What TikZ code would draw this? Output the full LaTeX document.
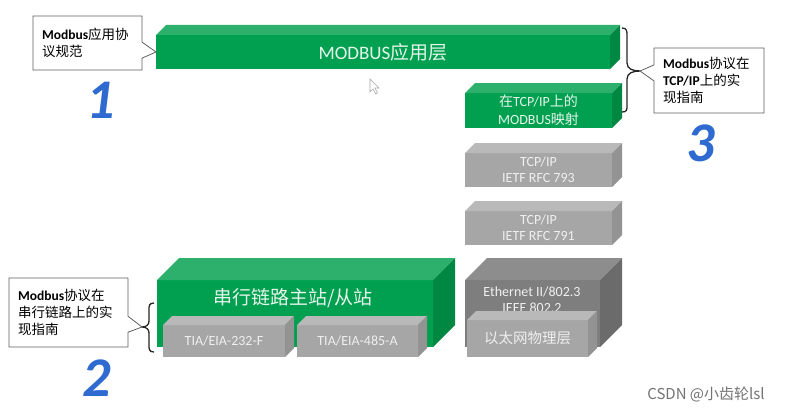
\documentclass[tikz,border=0pt]{standalone}
\usepackage{fontspec}
\setmainfont{Carlito}
\newfontfamily\cjk{Noto Sans CJK SC}
\usetikzlibrary{shapes.callouts}
\definecolor{gfront}{HTML}{00A050}
\definecolor{gtop}{HTML}{2DB06B}
\definecolor{gside}{HTML}{008842}
\definecolor{gtext}{HTML}{E6F5EB}
\definecolor{lfront}{HTML}{A6A6A6}
\definecolor{ltop}{HTML}{B9B9B9}
\definecolor{lside}{HTML}{939393}
\definecolor{dfront}{HTML}{7E7E7E}
\definecolor{dtop}{HTML}{8D8D8D}
\definecolor{dside}{HTML}{6B6B6B}
\definecolor{ltext}{HTML}{EFEFEF}
\definecolor{numblue}{HTML}{2E6AD0}
\definecolor{cborder}{HTML}{606060}
\newcommand\zh[1]{{\cjk #1}}
\newcommand\slab[4]{%
  \fill[#3] (#1.north west) -- ([shift={(#2,-#2)}]#1.north west) -- ([shift={(#2,-#2)}]#1.north east) -- (#1.north east) -- cycle;
  \fill[#4] (#1.north east) -- ([shift={(#2,-#2)}]#1.north east) -- ([shift={(#2,-#2)}]#1.south east) -- (#1.south east) -- cycle;}
\begin{document}
\begin{tikzpicture}[x=1pt,y=-1pt,
  face/.style={inner sep=0pt, outer sep=0pt, anchor=north west, align=center},
  gface/.style={face, fill=gfront, text=gtext},
  lface/.style={face, fill=lfront, text=ltext},
  dface/.style={face, fill=dfront, text=ltext},
  note/.style={rectangle callout, draw=cborder, fill=white, line width=0.8pt,
    inner xsep=9pt, inner ysep=2pt, align=left, callout pointer width=16pt,
    font=\fontsize{13.5}{17}\selectfont},
  num/.style={text=numblue, font=\fontsize{56}{56}\selectfont\bfseries\itshape, inner sep=0pt},
  bracestyle/.style={draw=black!85, line width=1.3pt}]
\fill[white] (0,0) rectangle (789,412);
\useasboundingbox (0,0) rectangle (789,412);

% application layer
\node[gface, minimum width=454pt, minimum height=34pt, font=\fontsize{19}{22}\selectfont] (app) at (156,35) {MODBUS\zh{应用层}};
\slab{app}{10}{gtop}{gside}

% mapping on TCP/IP
\node[gface, minimum width=147pt, minimum height=35pt, font=\fontsize{14}{18}\selectfont] (map) at (465,93) {\zh{在}TCP/IP\zh{上的}\\MODBUS\zh{映射}};
\slab{map}{10}{gtop}{gside}

% TCP/IP boxes
\node[lface, minimum width=147pt, minimum height=34pt, font=\fontsize{14}{16}\selectfont] (tcp1) at (465,153) {TCP/IP\\IETF RFC 793};
\slab{tcp1}{10}{ltop}{lside}
\node[lface, minimum width=147pt, minimum height=34pt, font=\fontsize{14}{16}\selectfont] (tcp2) at (465,211) {TCP/IP\\IETF RFC 791};
\slab{tcp2}{10}{ltop}{lside}

% Ethernet
\node[dface, minimum width=135pt, minimum height=67pt] (eth) at (465,280) {};
\slab{eth}{22}{dtop}{dside}
\node[text=ltext, align=center, inner sep=0pt, font=\fontsize{14}{16}\selectfont] (ethtxt) at (532,300) {Ethernet II/802.3\\IEEE 802.2};
\node[lface, minimum width=121pt, minimum height=37pt, font=\fontsize{14.5}{17}\selectfont] (phy) at (467,320) {\zh{以太网物理层}};
\slab{phy}{9}{ltop}{lside}

% serial link
\node[gface, minimum width=276pt, minimum height=67pt] (ser) at (157,280) {};
\slab{ser}{22}{gtop}{gside}
\node[text=gtext, inner sep=0pt, font=\fontsize{19}{22}\selectfont] (sertxt) at (293,298) {\zh{串行链路主站/从站}};
\node[lface, minimum width=122pt, minimum height=32pt, font=\fontsize{14}{16}\selectfont] (t232) at (163,325) {TIA/EIA-232-F};
\slab{t232}{9}{ltop}{lside}
\node[lface, minimum width=121pt, minimum height=32pt, font=\fontsize{14}{16}\selectfont] (t485) at (297,325) {TIA/EIA-485-A};
\slab{t485}{9}{ltop}{lside}

% braces
\coordinate (b3tip) at (640,71);
\draw[bracestyle] (622,28) .. controls (627,28) and (627,31) .. (627,36) -- (627,63)
  .. controls (627,69) and (633,71) .. (b3tip)
  .. controls (633,71) and (627,73) .. (627,79) -- (627,105)
  .. controls (627,110) and (627,112) .. (622,112);
\coordinate (b2tip) at (142,327);
\draw[bracestyle] (154,303) .. controls (149,303) and (149,306) .. (149,310) -- (149,321)
  .. controls (149,325) and (146,327) .. (b2tip)
  .. controls (146,327) and (149,329) .. (149,333) -- (149,345)
  .. controls (149,349) and (149,352) .. (154,352);

% callouts
\node[note, minimum width=109pt, minimum height=54pt, text width=91pt,
  callout absolute pointer={(app.west)}] (c1) at (87.5,43)
  {\textbf{Modbus}\zh{应用协}\\\zh{议规范}};
\node[note, minimum width=110pt, minimum height=65pt, text width=92pt,
  callout absolute pointer={(b3tip)}] (c3) at (709,80.5)
  {\textbf{Modbus}\zh{协议在}\\\textbf{TCP/IP}\zh{上的实}\\\zh{现指南}};
\node[note, minimum width=119pt, minimum height=69pt, text width=101pt,
  callout absolute pointer={(b2tip)}] (c2) at (68.5,312.5)
  {\textbf{Modbus}\zh{协议在}\\\zh{串行链路上的实}\\\zh{现指南}};

% numbers
\node[num] (n1) at (101,100) {1};
\node[num] (n2) at (97,378) {2};
\node[num] (n3) at (701,143) {3};

% cursor
\draw[gray!70, fill=white, line width=0.6pt] (370,79) -- (370,92) -- (373,89) -- (375.5,94) -- (377.5,93) -- (375,88) -- (379,88) -- cycle;

% watermark
\node[text=black!55, inner sep=0pt, font=\cjk\fontsize{15}{18}\selectfont] (wm) at (706,394) {CSDN @小齿轮lsl};
\end{tikzpicture}
\end{document}
